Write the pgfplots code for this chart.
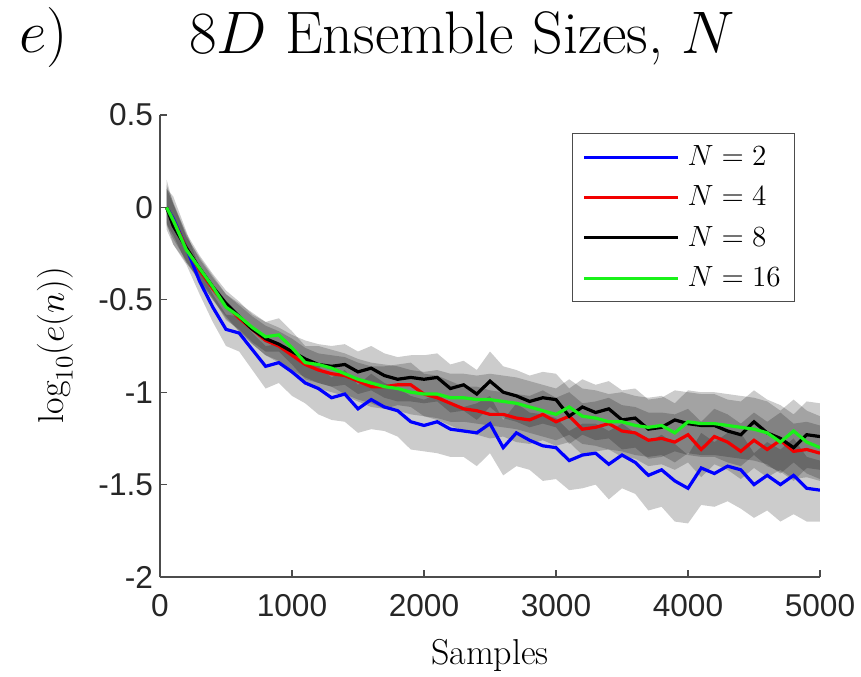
\RequirePackage{fix-cm}
\documentclass[border=0pt]{standalone}
\usepackage{fontspec}
\usepackage{pgfplots}
\usepackage{pgfplotstable}
\pgfplotsset{compat=1.18}
\usepgfplotslibrary{fillbetween}
\newfontfamily\arial{Liberation Sans}
\definecolor{mblue}{rgb}{0,0,1}
\definecolor{mred}{rgb}{0.95,0,0}
\definecolor{mgreen}{rgb}{0.1,0.95,0.1}
\definecolor{axgray}{rgb}{0.3,0.3,0.3}

\pgfplotstableread{
x m lo hi
50 0 -0.08 0.10
100 -0.06 -0.20 0.06
200 -0.22 -0.31 -0.13
300 -0.40 -0.47 -0.33
400 -0.54 -0.62 -0.47
500 -0.66 -0.75 -0.58
600 -0.68 -0.78 -0.59
700 -0.77 -0.88 -0.68
800 -0.86 -0.98 -0.75
900 -0.84 -0.95 -0.74
1000 -0.89 -1.02 -0.78
1100 -0.95 -1.06 -0.84
1200 -0.98 -1.12 -0.86
1300 -1.03 -1.15 -0.92
1400 -1.01 -1.16 -0.88
1500 -1.09 -1.22 -0.96
1600 -1.04 -1.20 -0.90
1700 -1.08 -1.21 -0.95
1800 -1.10 -1.24 -0.98
1900 -1.16 -1.31 -1.02
2000 -1.18 -1.32 -1.04
2100 -1.16 -1.33 -1.01
2200 -1.20 -1.35 -1.06
2300 -1.21 -1.35 -1.08
2400 -1.22 -1.40 -1.06
2500 -1.17 -1.33 -1.02
2600 -1.30 -1.45 -1.15
2700 -1.22 -1.40 -1.06
2800 -1.26 -1.42 -1.11
2900 -1.29 -1.48 -1.12
3000 -1.30 -1.47 -1.14
3100 -1.37 -1.53 -1.21
3200 -1.34 -1.52 -1.17
3300 -1.33 -1.50 -1.17
3400 -1.39 -1.58 -1.21
3500 -1.34 -1.52 -1.17
3600 -1.38 -1.55 -1.22
3700 -1.45 -1.64 -1.27
3800 -1.42 -1.62 -1.23
3900 -1.48 -1.70 -1.28
4000 -1.52 -1.71 -1.34
4100 -1.41 -1.61 -1.22
4200 -1.44 -1.62 -1.27
4300 -1.40 -1.59 -1.22
4400 -1.42 -1.63 -1.22
4500 -1.50 -1.68 -1.33
4600 -1.45 -1.64 -1.27
4700 -1.50 -1.70 -1.31
4800 -1.45 -1.66 -1.25
4900 -1.52 -1.70 -1.35
5000 -1.53 -1.70 -1.37
}\Ntwo

\pgfplotstableread{
x m lo hi
50 0 -0.10 0.12
100 -0.07 -0.17 0.03
200 -0.22 -0.29 -0.15
300 -0.34 -0.40 -0.28
400 -0.44 -0.50 -0.38
500 -0.53 -0.60 -0.47
600 -0.60 -0.67 -0.53
700 -0.66 -0.74 -0.59
800 -0.72 -0.80 -0.64
900 -0.75 -0.84 -0.67
1000 -0.80 -0.89 -0.71
1100 -0.85 -0.94 -0.76
1200 -0.88 -0.98 -0.79
1300 -0.90 -1.00 -0.80
1400 -0.91 -1.02 -0.81
1500 -0.94 -1.05 -0.84
1600 -0.97 -1.08 -0.86
1700 -0.97 -1.09 -0.86
1800 -0.96 -1.07 -0.85
1900 -0.96 -1.08 -0.84
2000 -1.01 -1.13 -0.90
2100 -1.03 -1.15 -0.91
2200 -1.06 -1.18 -0.94
2300 -1.09 -1.21 -0.97
2400 -1.10 -1.23 -0.97
2500 -1.12 -1.25 -0.99
2600 -1.12 -1.24 -1.00
2700 -1.14 -1.27 -1.01
2800 -1.15 -1.28 -1.02
2900 -1.12 -1.26 -0.99
3000 -1.16 -1.29 -1.03
3100 -1.13 -1.27 -1.00
3200 -1.20 -1.34 -1.06
3300 -1.19 -1.32 -1.05
3400 -1.17 -1.31 -1.03
3500 -1.21 -1.35 -1.07
3600 -1.22 -1.36 -1.08
3700 -1.26 -1.40 -1.11
3800 -1.25 -1.39 -1.11
3900 -1.27 -1.42 -1.12
4000 -1.23 -1.38 -1.09
4100 -1.31 -1.46 -1.16
4200 -1.24 -1.39 -1.09
4300 -1.27 -1.42 -1.12
4400 -1.32 -1.47 -1.17
4500 -1.26 -1.41 -1.11
4600 -1.31 -1.46 -1.16
4700 -1.26 -1.42 -1.11
4800 -1.32 -1.47 -1.17
4900 -1.31 -1.46 -1.16
5000 -1.33 -1.48 -1.18
}\Nfour

\pgfplotstableread{
x m lo hi
50 0 -0.12 0.15
100 -0.10 -0.20 0.02
200 -0.22 -0.30 -0.14
300 -0.33 -0.40 -0.26
400 -0.43 -0.50 -0.36
500 -0.52 -0.59 -0.45
600 -0.59 -0.67 -0.51
700 -0.66 -0.74 -0.58
800 -0.71 -0.80 -0.62
900 -0.74 -0.83 -0.65
1000 -0.78 -0.88 -0.69
1100 -0.82 -0.92 -0.72
1200 -0.85 -0.95 -0.74
1300 -0.86 -0.97 -0.75
1400 -0.85 -0.96 -0.74
1500 -0.89 -1.01 -0.78
1600 -0.87 -0.99 -0.75
1700 -0.91 -1.03 -0.79
1800 -0.93 -1.05 -0.81
1900 -0.92 -1.05 -0.80
2000 -0.93 -1.06 -0.80
2100 -0.92 -1.05 -0.79
2200 -0.98 -1.11 -0.85
2300 -0.96 -1.10 -0.83
2400 -1.01 -1.15 -0.88
2500 -0.94 -1.08 -0.78
2600 -1.00 -1.14 -0.86
2700 -1.02 -1.16 -0.88
2800 -1.05 -1.19 -0.91
2900 -1.03 -1.17 -0.89
3000 -1.04 -1.19 -0.90
3100 -1.13 -1.28 -0.98
3200 -1.08 -1.23 -0.93
3300 -1.11 -1.26 -0.96
3400 -1.09 -1.25 -0.94
3500 -1.15 -1.31 -0.99
3600 -1.14 -1.30 -0.98
3700 -1.20 -1.36 -1.04
3800 -1.19 -1.35 -1.03
3900 -1.15 -1.32 -0.99
4000 -1.17 -1.34 -1.00
4100 -1.18 -1.35 -1.01
4200 -1.18 -1.35 -1.01
4300 -1.21 -1.38 -1.04
4400 -1.23 -1.40 -1.05
4500 -1.16 -1.34 -0.99
4600 -1.22 -1.40 -1.04
4700 -1.25 -1.43 -1.07
4800 -1.30 -1.48 -1.12
4900 -1.23 -1.41 -1.05
5000 -1.24 -1.42 -1.06
}\Neight

\pgfplotstableread{
x m lo hi
50 0 -0.09 0.10
100 -0.07 -0.15 0.02
200 -0.23 -0.30 -0.16
300 -0.33 -0.39 -0.27
400 -0.43 -0.49 -0.37
500 -0.54 -0.61 -0.47
600 -0.59 -0.66 -0.52
700 -0.65 -0.73 -0.57
800 -0.70 -0.78 -0.62
900 -0.69 -0.78 -0.60
1000 -0.76 -0.85 -0.67
1100 -0.84 -0.93 -0.75
1200 -0.85 -0.95 -0.75
1300 -0.87 -0.97 -0.77
1400 -0.90 -1.01 -0.79
1500 -0.93 -1.04 -0.82
1600 -0.95 -1.06 -0.84
1700 -0.97 -1.09 -0.85
1800 -0.98 -1.10 -0.86
1900 -1.00 -1.12 -0.88
2000 -1.01 -1.13 -0.89
2100 -1.01 -1.14 -0.88
2200 -1.03 -1.16 -0.90
2300 -1.03 -1.16 -0.90
2400 -1.04 -1.17 -0.91
2500 -1.04 -1.18 -0.90
2600 -1.05 -1.19 -0.91
2700 -1.06 -1.20 -0.92
2800 -1.08 -1.22 -0.94
2900 -1.10 -1.24 -0.96
3000 -1.12 -1.26 -0.98
3100 -1.08 -1.23 -0.93
3200 -1.13 -1.28 -0.98
3300 -1.14 -1.29 -0.99
3400 -1.16 -1.31 -1.01
3500 -1.16 -1.32 -1.00
3600 -1.18 -1.34 -1.02
3700 -1.19 -1.35 -1.03
3800 -1.18 -1.34 -1.02
3900 -1.22 -1.38 -1.06
4000 -1.16 -1.33 -0.99
4100 -1.17 -1.34 -1.00
4200 -1.17 -1.34 -1.00
4300 -1.18 -1.35 -1.01
4400 -1.19 -1.36 -1.02
4500 -1.20 -1.37 -1.03
4600 -1.22 -1.39 -1.05
4700 -1.27 -1.44 -1.10
4800 -1.21 -1.38 -1.04
4900 -1.27 -1.44 -1.10
5000 -1.30 -1.47 -1.13
}\Nsixteen

\begin{document}
\begin{tikzpicture}
\begin{axis}[
  at={(0,0)}, anchor=south west,
  width=330pt, height=231pt, scale only axis=true,
  xmin=0, xmax=5000, ymin=-2, ymax=0.5,
  axis x line=bottom, axis y line=left,
  axis line style={-, axgray, line width=0.6pt},
  xtick={0,1000,2000,3000,4000,5000},
  xticklabels={0,1000,2000,3000,4000,5000},
  ytick={-2,-1.5,-1,-0.5,0,0.5},
  yticklabels={-2,-1.5,-1,-0.5,0,0.5},
  tick align=inside, major tick length=3.5pt,
  tick style={axgray, line width=0.6pt},
  ticklabel style={font=\arial\fontsize{15.8}{18}\selectfont, text=black!85},
  xticklabel style={yshift=-5pt},
  legend style={at={(0.624,0.961)}, anchor=north west, draw=axgray, line width=0.6pt,
    fill=white, font=\fontsize{14.6}{17}\selectfont, inner xsep=5pt, inner ysep=4pt,
    row sep=4.7pt, column sep=2pt, legend cell align=left},
  legend image code/.code={\draw[#1, line width=1.6pt] (0pt,0pt) -- (47pt,0pt);},
]
% bands
\addplot[name path=aH, draw=none, forget plot] table[x=x,y=hi]{\Ntwo};
\addplot[name path=aL, draw=none, forget plot] table[x=x,y=lo]{\Ntwo};
\addplot[black, fill opacity=0.2, draw=none, forget plot] fill between[of=aH and aL];
\addplot[name path=bH, draw=none, forget plot] table[x=x,y=hi]{\Nfour};
\addplot[name path=bL, draw=none, forget plot] table[x=x,y=lo]{\Nfour};
\addplot[black, fill opacity=0.2, draw=none, forget plot] fill between[of=bH and bL];
\addplot[name path=cH, draw=none, forget plot] table[x=x,y=hi]{\Neight};
\addplot[name path=cL, draw=none, forget plot] table[x=x,y=lo]{\Neight};
\addplot[black, fill opacity=0.2, draw=none, forget plot] fill between[of=cH and cL];
\addplot[name path=dH, draw=none, forget plot] table[x=x,y=hi]{\Nsixteen};
\addplot[name path=dL, draw=none, forget plot] table[x=x,y=lo]{\Nsixteen};
\addplot[black, fill opacity=0.2, draw=none, forget plot] fill between[of=dH and dL];
% means
\addplot[mblue, line width=1.6pt] table[x=x,y=m]{\Ntwo};
\addlegendentry{$N=2$}
\addplot[mred, line width=1.6pt] table[x=x,y=m]{\Nfour};
\addlegendentry{$N=4$}
\addplot[black, line width=1.6pt] table[x=x,y=m]{\Neight};
\addlegendentry{$N=8$}
\addplot[mgreen, line width=1.6pt] table[x=x,y=m]{\Nsixteen};
\addlegendentry{$N=16$}
\end{axis}
\node[font=\fontsize{30}{34}\selectfont] at (151pt,269.5pt) {$8D$ Ensemble Sizes, $N$};
\node[font=\fontsize{30}{34}\selectfont] at (-58pt,269.5pt) {$e)$};
\node[font=\fontsize{18}{21}\selectfont, rotate=90] at (-52.5pt,116pt) {$\log_{10}(e(n))$};
\node[font=\fontsize{18}{21}\selectfont] at (165pt,-39pt) {Samples};
\pgfresetboundingbox
\path[use as bounding box] (-80pt,-49.5pt) rectangle (350.5pt,288.5pt);
\end{tikzpicture}
\end{document}
